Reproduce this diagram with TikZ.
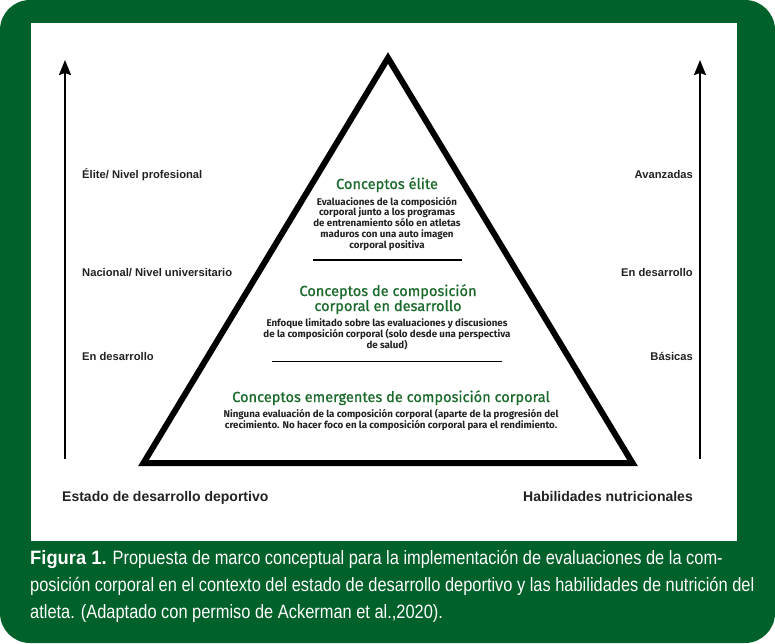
\documentclass[tikz,border=0pt]{standalone}
\usepackage{fontspec}
\setmainfont{Liberation Sans}
\newfontfamily\narrowfont{Liberation Sans}[FakeStretch=0.85]
\newfontfamily\figfont{Liberation Sans}[FakeStretch=0.95]
\newfontfamily\trifont{Fira Sans}
\newfontfamily\trititlefont{Fira Sans}[FakeBold=0.8]
\usetikzlibrary{arrows.meta}
\definecolor{frame}{HTML}{00622A}
\definecolor{ttl}{HTML}{1B6A2C}
\definecolor{body}{HTML}{222222}
\tikzset{
  axislbl/.style={font=\bfseries\fontsize{11.2}{12}\selectfont, inner sep=0pt, text=body},
  footlbl/.style={font=\bfseries\fontsize{14}{15}\selectfont, inner sep=0pt, text=body},
  tritl/.style={font=\trititlefont\fontsize{14.6}{15}\selectfont, text=ttl, inner sep=0pt, align=center, anchor=base},
  tribody/.style={font=\trifont\bfseries\fontsize{9.75}{10.8}\selectfont, text=body, inner sep=0pt, align=center, anchor=base},
  capline/.style={font=\narrowfont\fontsize{19.3}{20}\selectfont, text=white, inner sep=0pt, anchor=base west},
  axisarrow/.style={line width=2pt, -{Stealth[length=15pt,width=12pt,inset=2pt]}},
  sepline/.style={line width=1.3pt}
}
\begin{document}
\begin{tikzpicture}[x=1pt,y=-1pt]
\useasboundingbox (0,0) rectangle (775,643);
\fill[white] (0,0) rectangle (775,643);
\fill[frame, rounded corners=30pt] (0,0) rectangle (775,643);
\fill[white] (31,23) rectangle (737,541);

% triangle
\coordinate (apex) at (388,58);
\coordinate (bl) at (143.5,463);
\coordinate (br) at (632.5,463);
\draw[line width=6pt, miter limit=10] (apex) -- (br) -- (bl) -- cycle;

% axes
\coordinate (la0) at (65,459);
\coordinate (la1) at (65,60);
\coordinate (ra0) at (700,459);
\coordinate (ra1) at (700,60);
\draw[axisarrow] (la0) -- (la1);
\draw[axisarrow] (ra0) -- (ra1);

% left labels
\node[axislbl, anchor=base west] (l1) at (82,178.5) {Élite/ Nivel profesional};
\node[axislbl, anchor=base west] (l2) at (82,276) {Nacional/ Nivel universitario};
\node[axislbl, anchor=base west] (l3) at (82,360) {En desarrollo};
% right labels
\node[axislbl, anchor=base east] (r1) at (693,178.5) {Avanzadas};
\node[axislbl, anchor=base east] (r2) at (693,276) {En desarrollo};
\node[axislbl, anchor=base east] (r3) at (693,360) {Básicas};

% bottom labels
\node[footlbl, anchor=base west] (f1) at (62,501.5) {Estado de desarrollo deportivo};
\node[footlbl, anchor=base east] (f2) at (693,501.5) {Habilidades nutricionales};

% triangle contents (base anchor = baseline of the last line)
\node[tritl] (t1) at (387,189) {Conceptos élite};
\node[tribody] (b1) at (387,248.2) {Evaluaciones de la composición\\corporal junto a los programas\\de entrenamiento sólo en atletas\\maduros con una auto imagen\\corporal positiva};
\coordinate (s1a) at (313,260);
\coordinate (s1b) at (462,260);
\draw[sepline] (s1a) -- (s1b);

\node[tritl] (t2) at (388,311) {Conceptos de composición\\corporal en desarrollo};
\node[tribody] (b2) at (387,348.1) {Enfoque limitado sobre las evaluaciones y discusiones\\de la composición corporal (solo desde una perspectiva\\de salud)};
\coordinate (s2a) at (272,361.5);
\coordinate (s2b) at (502,361.5);
\draw[sepline] (s2a) -- (s2b);

\node[tritl] (t3) at (391,402) {Conceptos emergentes de composición corporal};
\node[tribody] (b3) at (391,428) {Ninguna evaluación de la composición corporal (aparte de la progresión del\\crecimiento. No hacer foco en la composición corporal para el rendimiento.};

% caption
\node[capline] (c1) at (30,564) {{\figfont\bfseries Figura 1.} Propuesta de marco conceptual para la implementación de evaluaciones de la com-};
\node[capline] (c2) at (30,591) {posición corporal en el contexto del estado de desarrollo deportivo y las habilidades de nutrición del};
\node[capline] (c3) at (30,618) {atleta. (Adaptado con permiso de Ackerman et al.,2020).};
\end{tikzpicture}
\end{document}
